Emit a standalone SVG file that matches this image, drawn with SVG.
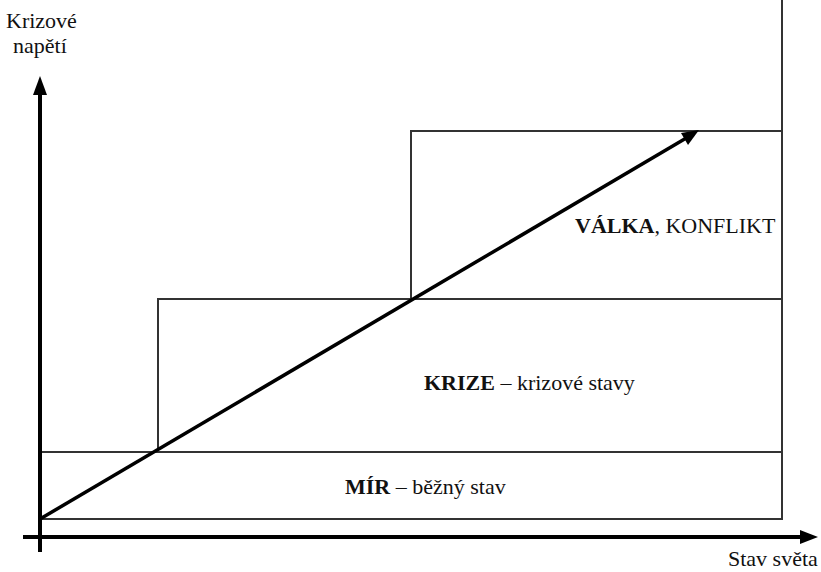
<svg xmlns="http://www.w3.org/2000/svg" width="821" height="572" viewBox="0 0 821 572">
<style>
.box{fill:none;stroke:#333;stroke-width:2}
.ax{stroke:#000;stroke-width:4;fill:none}
text{font-family:"Liberation Serif","Times New Roman",serif;fill:#111;font-size:22px}
.b{font-weight:bold}
</style>
<rect width="821" height="572" fill="#fff"/>
<g id="zones">
<g id="mir"><rect class="box" x="40" y="452" width="742" height="67"/>
<text x="345" y="494"><tspan class="b">MÍR</tspan> – běžný stav</text></g>
<g id="krize"><polyline class="box" points="158,452 158,299 782,299"/>
<text x="424" y="390"><tspan class="b">KRIZE</tspan> – krizové stavy</text></g>
<g id="valka"><polyline class="box" points="411,299 411,131 782,131"/>
<text x="575" y="233"><tspan class="b">VÁLKA</tspan>, KONFLIKT</text></g>
<line class="box" x1="782" y1="0" x2="782" y2="519"/>
</g>
<g id="connectors">
<line class="ax" x1="40" y1="552" x2="40" y2="92"/>
<polygon points="40,76 33,95 47,95" fill="#000"/>
<line class="ax" x1="23" y1="537" x2="802" y2="537"/>
<polygon points="818,537 800,530 800,544" fill="#000"/>
<line stroke="#000" stroke-width="3.5" x1="40" y1="519" x2="688" y2="137"/>
<polygon points="699,130 681,133 688,145" fill="#000"/>
</g>
<g id="labels">
<text x="6" y="28" font-size="21">Krizové</text>
<text x="13" y="53" font-size="21">napětí</text>
<text x="728" y="566">Stav světa</text>
</g>
</svg>
